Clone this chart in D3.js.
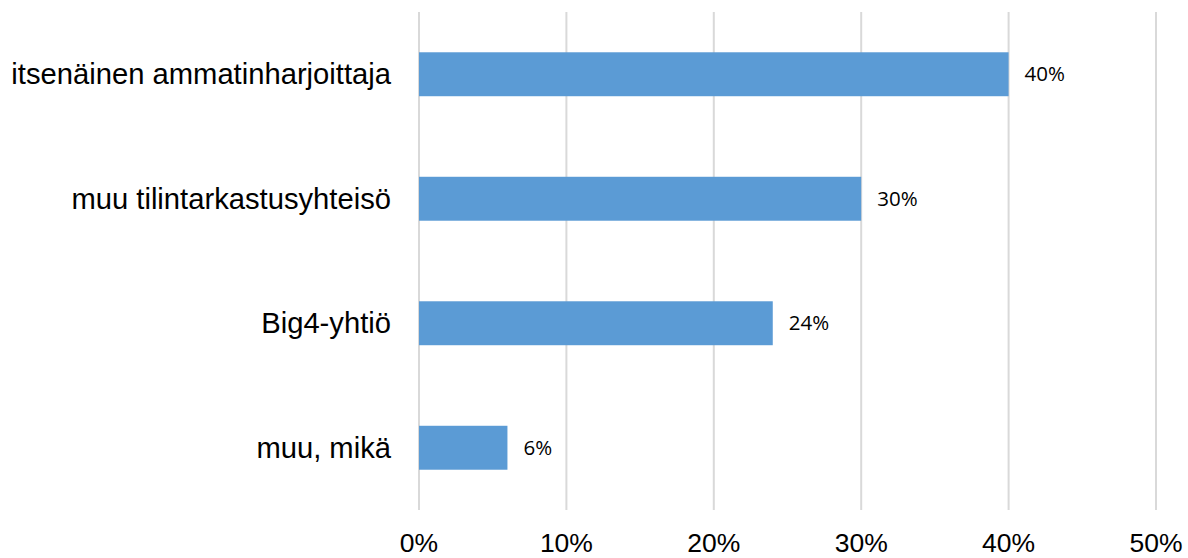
<!DOCTYPE html>
<html><head><meta charset="utf-8">
<script src="https://cdn.jsdelivr.net/npm/d3@7"></script>
<style>body{margin:0;background:#fff}svg{display:block}</style>
</head><body>
<script>
const categories = ["itsenäinen ammatinharjoittaja", "muu tilintarkastusyhteisö", "Big4-yhtiö", "muu, mikä"];
const values = [0.40, 0.30, 0.24, 0.06];
const tickValues = [0, 0.1, 0.2, 0.3, 0.4, 0.5];

const W = 1188, H = 558;
const svg = d3.select("body").append("svg").attr("width", W).attr("height", H);
const x = d3.scaleLinear().domain([0, 0.5]).range([419, 1156]);
const y = d3.scaleBand().domain(categories).range([12, 510]).paddingInner(0.647).paddingOuter(0.3235);

svg.append("g").selectAll("line").data(tickValues).join("line")
  .attr("x1", d => x(d)).attr("x2", d => x(d)).attr("y1", 12).attr("y2", 510)
  .attr("stroke", "#d9d9d9").attr("stroke-width", 2);

svg.append("g").selectAll("rect").data(values).join("rect")
  .attr("x", x(0)).attr("y", (d, i) => y(categories[i]))
  .attr("width", d => x(d) - x(0)).attr("height", y.bandwidth())
  .attr("fill", "#5b9bd5");

svg.append("g").selectAll("text").data(values).join("text")
  .attr("x", d => x(d) + 16).attr("y", (d, i) => y(categories[i]) + y.bandwidth() / 2)
  .attr("dy", "0.35em").attr("font-family", "Open Sans").attr("font-size", 20.5).attr("fill", "#000")
  .text(d => d3.format(".0%")(d));

svg.append("g").selectAll("text").data(categories).join("text")
  .attr("x", 391).attr("y", d => y(d) + y.bandwidth() / 2).attr("dy", "0.35em")
  .attr("text-anchor", "end").attr("font-family", "Liberation Sans").attr("font-size", 29.2).attr("fill", "#000")
  .text(d => d);

svg.append("g").selectAll("text").data(tickValues).join("text")
  .attr("x", d => x(d)).attr("y", 552).attr("text-anchor", "middle")
  .attr("font-family", "Liberation Sans").attr("font-size", 26.5).attr("fill", "#000")
  .text(d => d3.format(".0%")(d));
</script>
</body></html>
